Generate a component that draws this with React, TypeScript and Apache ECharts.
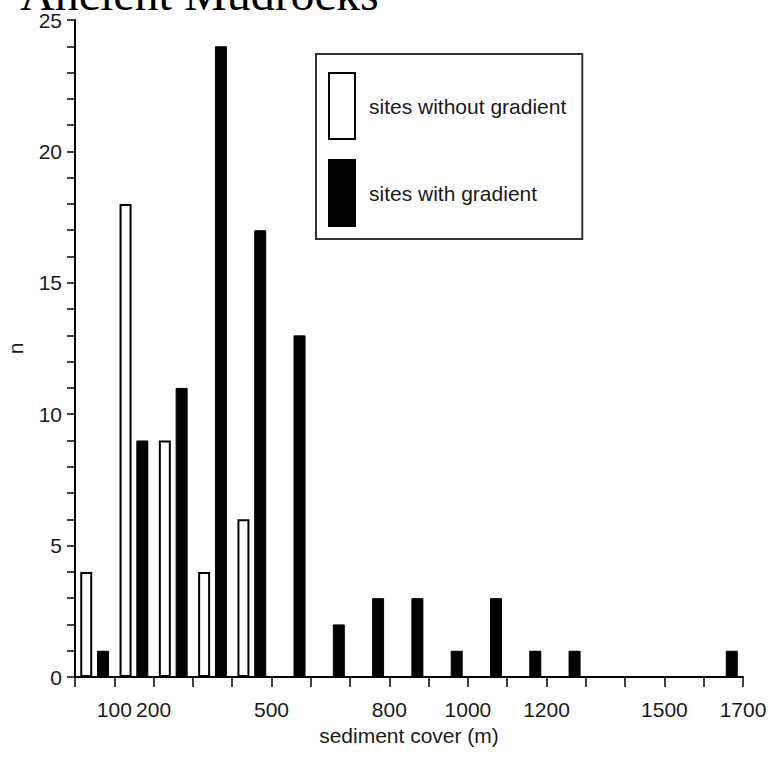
import React, { useEffect, useRef } from "react";
import * as echarts from "echarts";

const binStarts = [0, 100, 200, 300, 400, 500, 600, 700, 800, 900, 1000, 1100, 1200, 1300, 1400, 1500, 1600];
const withoutGradient = [4, 18, 9, 4, 6, 0, 0, 0, 0, 0, 0, 0, 0, 0, 0, 0, 0];
const withGradient = [1, 9, 11, 24, 17, 13, 2, 3, 3, 1, 3, 1, 1, 0, 0, 0, 1];
const shownTickLabels = [100, 200, 500, 800, 1000, 1200, 1500, 1700];
const seriesNames = ["sites without gradient", "sites with gradient"];

const SANS = '"Liberation Sans", Arial, Helvetica, sans-serif';

export default function App() {
  const ref = useRef<HTMLDivElement>(null);
  useEffect(() => {
    if (!ref.current) return;
    const chart = echarts.init(ref.current, null, { renderer: "svg" });
    chart.setOption({
      animation: false,
      backgroundColor: "#fff",
      title: {
        text: "Ancient Mudrocks",
        left: 20,
        top: -31,
        padding: 0,
        textStyle: { fontFamily: '"Liberation Serif", "Times New Roman", serif', fontSize: 48, fontWeight: "normal", color: "#000" },
      },
      legend: {
        orient: "vertical",
        left: 316,
        top: 54,
        itemWidth: 26,
        itemHeight: 66,
        itemGap: 19,
        padding: [18, 16, 12, 12],
        borderColor: "#333",
        borderWidth: 2,
        icon: "rect",
        data: seriesNames,
        textStyle: { fontFamily: SANS, fontSize: 21, color: "#1a1a1a", padding: [0, 0, 0, 9] },
      },
      grid: { left: 75, right: 28, top: 20, bottom: 89, containLabel: false, outerBoundsMode: "none" },
      xAxis: [
        {
          type: "category",
          data: binStarts.map((s) => `${s}-${s + 100}`),
          axisLine: { show: false },
          axisTick: { show: false },
          axisLabel: { show: false },
          splitLine: { show: false },
        },
        {
          type: "value",
          position: "bottom",
          min: 0,
          max: 1700,
          interval: 100,
          name: "sediment cover (m)",
          nameLocation: "middle",
          nameGap: 48,
          nameTextStyle: { fontFamily: SANS, fontSize: 21, color: "#1a1a1a" },
          axisLine: { show: true, lineStyle: { color: "#000", width: 2 } },
          axisTick: { show: true, length: 10, lineStyle: { color: "#000", width: 1.5 } },
          axisLabel: {
            margin: 22,
            fontFamily: SANS,
            fontSize: 21,
            color: "#1a1a1a",
            formatter: (v: number) => (shownTickLabels.includes(v) ? String(v) : ""),
          },
          splitLine: { show: false },
        },
      ],
      yAxis: {
        type: "value",
        min: 0,
        max: 25,
        interval: 5,
        name: "n",
        nameLocation: "middle",
        nameGap: 49,
        nameTextStyle: { fontFamily: SANS, fontSize: 21, color: "#1a1a1a" },
        axisLine: { show: true, lineStyle: { color: "#000", width: 2 } },
        axisTick: { show: true, length: 8, lineStyle: { color: "#000", width: 1.5 } },
        minorTick: { show: true, splitNumber: 5, length: 8, lineStyle: { color: "#000", width: 1.5 } },
        axisLabel: { margin: 13, fontFamily: SANS, fontSize: 21, color: "#1a1a1a" },
        splitLine: { show: false },
      },
      series: [
        {
          name: seriesNames[0],
          type: "bar",
          xAxisIndex: 0,
          data: withoutGradient,
          barWidth: 12,
          barGap: "40%",
          itemStyle: { color: "#fff", borderColor: "#000", borderWidth: 2 },
        },
        {
          name: seriesNames[1],
          type: "bar",
          xAxisIndex: 0,
          data: withGradient,
          barWidth: 12,
          barGap: "40%",
          itemStyle: { color: "#000", borderColor: "#000", borderWidth: 1 },
        },
      ],
    });
    return () => chart.dispose();
  }, []);
  return <div ref={ref} style={{ position: "fixed", left: 0, top: 0, width: 771, height: 766 }} />;
}
